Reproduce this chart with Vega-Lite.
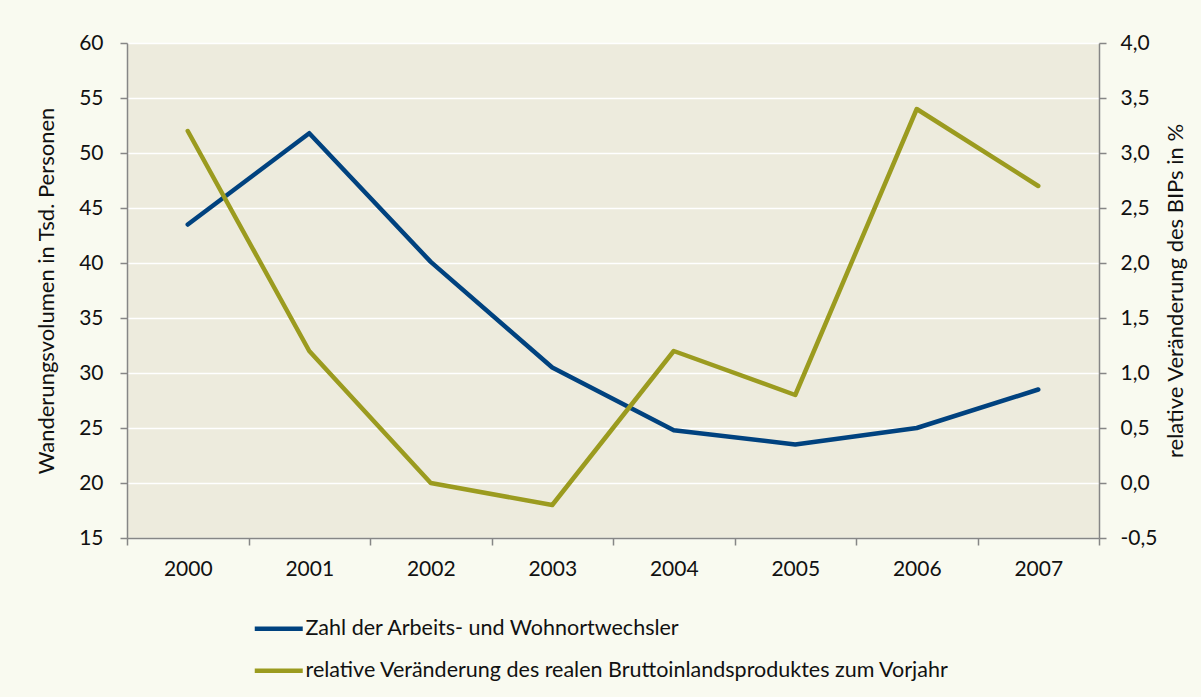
{
  "$schema": "https://vega.github.io/schema/vega-lite/v6.json",
  "width": 972,
  "height": 495,
  "autosize": {"type": "none"},
  "padding": {"left": 127, "top": 43, "right": 102, "bottom": 159},
  "background": "#F9FAF0",
  "config": {
    "view": {"fill": "#EDEBDD", "stroke": null},
    "font": "Lato",
    "axis": {
      "labelFont": "Lato",
      "labelFontSize": 21,
      "labelColor": "#111111",
      "titleFont": "Lato",
      "titleFontSize": 22,
      "titleFontWeight": "normal",
      "titleColor": "#111111",
      "domainColor": "#868686",
      "domainWidth": 1.5,
      "tickColor": "#868686",
      "tickWidth": 1.5,
      "tickSize": 7
    },
    "legend": {"labelFont": "Lato", "labelFontSize": 21.5, "labelColor": "#111111"}
  },
  "data": {
    "values": [
      {"year": "2000", "series": "Zahl der Arbeits- und Wohnortwechsler", "value": 43.5},
      {"year": "2001", "series": "Zahl der Arbeits- und Wohnortwechsler", "value": 51.8},
      {"year": "2002", "series": "Zahl der Arbeits- und Wohnortwechsler", "value": 40.1},
      {"year": "2003", "series": "Zahl der Arbeits- und Wohnortwechsler", "value": 30.5},
      {"year": "2004", "series": "Zahl der Arbeits- und Wohnortwechsler", "value": 24.8},
      {"year": "2005", "series": "Zahl der Arbeits- und Wohnortwechsler", "value": 23.5},
      {"year": "2006", "series": "Zahl der Arbeits- und Wohnortwechsler", "value": 25.0},
      {"year": "2007", "series": "Zahl der Arbeits- und Wohnortwechsler", "value": 28.5},
      {"year": "2000", "series": "relative Veränderung des realen Bruttoinlandsproduktes zum Vorjahr", "value": 3.2},
      {"year": "2001", "series": "relative Veränderung des realen Bruttoinlandsproduktes zum Vorjahr", "value": 1.2},
      {"year": "2002", "series": "relative Veränderung des realen Bruttoinlandsproduktes zum Vorjahr", "value": 0.0},
      {"year": "2003", "series": "relative Veränderung des realen Bruttoinlandsproduktes zum Vorjahr", "value": -0.2},
      {"year": "2004", "series": "relative Veränderung des realen Bruttoinlandsproduktes zum Vorjahr", "value": 1.2},
      {"year": "2005", "series": "relative Veränderung des realen Bruttoinlandsproduktes zum Vorjahr", "value": 0.8},
      {"year": "2006", "series": "relative Veränderung des realen Bruttoinlandsproduktes zum Vorjahr", "value": 3.4},
      {"year": "2007", "series": "relative Veränderung des realen Bruttoinlandsproduktes zum Vorjahr", "value": 2.7}
    ]
  },
  "encoding": {
    "x": {
      "field": "year",
      "type": "nominal",
      "scale": {"type": "band", "paddingInner": 0, "paddingOuter": 0},
      "axis": {
        "title": null,
        "labelAngle": 0,
        "tickBand": "extent",
        "labelPadding": 13,
        "grid": false
      }
    },
    "color": {
      "field": "series",
      "type": "nominal",
      "scale": {
        "domain": ["Zahl der Arbeits- und Wohnortwechsler", "relative Veränderung des realen Bruttoinlandsproduktes zum Vorjahr"],
        "range": ["#00427F", "#9B9B1F"]
      },
      "legend": {
        "orient": "none",
        "legendX": 141,
        "legendY": 575,
        "direction": "vertical",
        "title": null,
        "padding": 0,
        "symbolType": "M-3,0H3",
        "symbolSize": 256,
        "symbolStrokeWidth": 4.5,
        "labelOffset": 16,
        "rowPadding": 19,
        "labelLimit": 900
      }
    }
  },
  "layer": [
    {
      "transform": [{"filter": "datum.series === 'Zahl der Arbeits- und Wohnortwechsler'"}],
      "mark": {"type": "line", "strokeWidth": 4.5, "strokeCap": "round", "strokeJoin": "round"},
      "encoding": {
        "y": {
          "field": "value",
          "type": "quantitative",
          "scale": {"domain": [15, 60], "nice": false, "zero": false},
          "axis": {
            "title": "Wanderungsvolumen in Tsd. Personen",
            "orient": "left",
            "values": [15, 20, 25, 30, 35, 40, 45, 50, 55, 60],
            "labelPadding": 17,
            "titlePadding": 20,
            "grid": true,
            "gridColor": "#FFFFFF",
            "gridWidth": 1.5,
            "gridOpacity": 1
          }
        }
      }
    },
    {
      "transform": [{"filter": "datum.series !== 'Zahl der Arbeits- und Wohnortwechsler'"}],
      "mark": {"type": "line", "strokeWidth": 4.5, "strokeCap": "round", "strokeJoin": "round"},
      "encoding": {
        "y": {
          "field": "value",
          "type": "quantitative",
          "scale": {"domain": [-0.5, 4.0], "nice": false, "zero": false},
          "axis": {
            "title": "relative Veränderung des BIPs in %",
            "orient": "right",
            "values": [-0.5, 0, 0.5, 1, 1.5, 2, 2.5, 3, 3.5, 4],
            "labelExpr": "replace(replace(format(datum.value, '.1f'), '.', ','), '−', '-')",
            "labelPadding": 14,
            "titlePadding": 31,
            "titleAngle": 270,
            "grid": false
          }
        }
      }
    }
  ],
  "resolve": {"scale": {"y": "independent"}}
}
